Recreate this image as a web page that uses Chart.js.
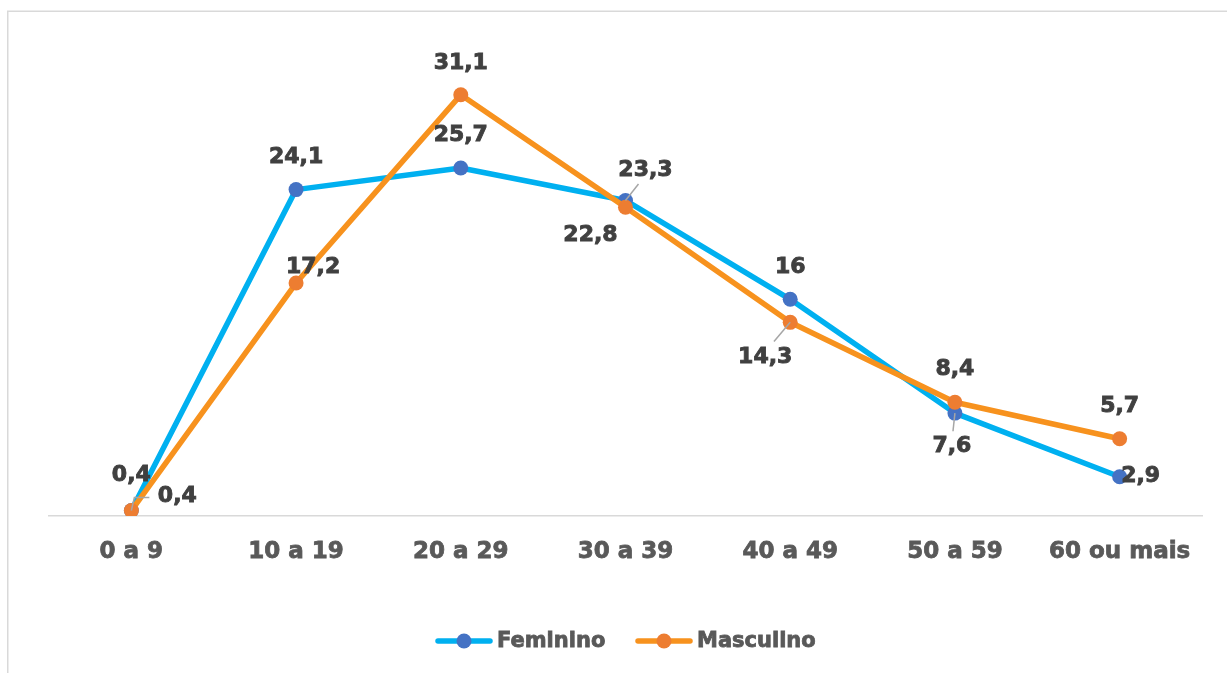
<!DOCTYPE html>
<html>
<head>
<meta charset="utf-8">
<script src="https://cdn.jsdelivr.net/npm/chart.js@4.4.1/dist/chart.umd.min.js"></script>
<style>
html,body{margin:0;padding:0;background:#fff;overflow:hidden;}
#wrap{width:1227px;height:673px;position:relative;}
</style>
</head>
<body>
<div id="wrap"><canvas id="c" width="1227" height="673"></canvas></div>
<script>
const categories = ['0 a 9','10 a 19','20 a 29','30 a 39','40 a 49','50 a 59','60 ou mais'];
const feminino = [0.4, 24.1, 25.7, 23.3, 16, 7.6, 2.9];
const masculino = [0.4, 17.2, 31.1, 22.8, 14.3, 8.4, 5.7];
const seriesNames = ['Feminino','Masculino'];

// label placement (pixel offsets from the point) and leader-line flags
const femLabelOffsets = [[0,-35],[0,-32],[0,-33],[20,-30],[0,-32],[-3,33],[21,0]];
const mascLabelOffsets = [[46,-14],[17,-16],[0,-32],[-35,28],[-25,35],[0,-33],[0,-33]];
const femLeader = [false,false,false,true,false,true,false];
const mascLeader = [true,false,false,false,true,false,false];

const FONT = '"DejaVu Sans", Verdana, sans-serif';

const labelPlugin = {
  id: 'labels',
  beforeDraw(chart){
    const ctx = chart.ctx;
    ctx.save();
    ctx.fillStyle = '#fff';
    ctx.fillRect(0,0,chart.width,chart.height);
    ctx.strokeStyle = '#D9D9D9';
    ctx.lineWidth = 1.5;
    ctx.beginPath();
    ctx.moveTo(7.75, chart.height);
    ctx.lineTo(7.75, 11.25);
    ctx.lineTo(chart.width, 11.25);
    ctx.stroke();
    ctx.restore();
  },
  afterDatasetsDraw(chart){
    const ctx = chart.ctx;
    const cfg = [
      {offs: femLabelOffsets, lead: femLeader, data: feminino},
      {offs: mascLabelOffsets, lead: mascLeader, data: masculino}
    ];
    ctx.save();
    ctx.font = 'bold 22px ' + FONT;
    ctx.textAlign = 'center';
    ctx.textBaseline = 'middle';
    cfg.forEach((c, di) => {
      const meta = chart.getDatasetMeta(di);
      meta.data.forEach((pt, i) => {
        if (!c.lead[i]) return;
        const [dx, dy] = c.offs[i];
        const lx = pt.x + dx, ly = pt.y + dy;
        ctx.strokeStyle = '#A6A6A6';
        ctx.lineWidth = 1.5;
        ctx.beginPath();
        ctx.moveTo(pt.x, pt.y);
        if (di === 1 && i === 0) {
          ctx.lineTo(pt.x + 3, ly + 1);
          ctx.lineTo(lx - 28, ly + 1);
        } else {
          const tx = lx - dx*0.35, ty = ly - dy*0.45;
          ctx.lineTo(tx, ty);
        }
        ctx.stroke();
      });
    });
    cfg.forEach((c, di) => {
      const meta = chart.getDatasetMeta(di);
      meta.data.forEach((pt, i) => {
        const [dx, dy] = c.offs[i];
        const txt = String(c.data[i]).replace('.', ',');
        ctx.fillStyle = '#404040';
        ctx.strokeStyle = '#404040';
        ctx.lineWidth = 0.9;
        ctx.fillText(txt, pt.x + dx, pt.y + dy);
        ctx.strokeText(txt, pt.x + dx, pt.y + dy);
      });
    });
    ctx.restore();
  },
  afterDraw(chart){
    const ctx = chart.ctx;
    ctx.save();
    const items = [
      {name: seriesNames[0], line: '#00B0F0', mark: '#4472C4', x: 436},
      {name: seriesNames[1], line: '#F7921E', mark: '#ED7D31', x: 636}
    ];
    const y = 641;
    ctx.font = 'bold 21px ' + FONT;
    ctx.textBaseline = 'middle';
    ctx.textAlign = 'left';
    items.forEach(it => {
      ctx.strokeStyle = it.line;
      ctx.lineWidth = 5.5;
      ctx.lineCap = 'round';
      ctx.beginPath();
      ctx.moveTo(it.x + 2, y);
      ctx.lineTo(it.x + 54, y);
      ctx.stroke();
      ctx.fillStyle = it.mark;
      ctx.beginPath();
      ctx.arc(it.x + 28, y, 7.5, 0, Math.PI*2);
      ctx.fill();
      ctx.fillStyle = '#595959';
      ctx.strokeStyle = '#595959';
      ctx.lineWidth = 0.8;
      ctx.fillText(it.name, it.x + 61, y + 1);
      ctx.strokeText(it.name, it.x + 61, y + 1);
    });
    ctx.restore();
  }
};

new Chart(document.getElementById('c'), {
  type: 'line',
  data: {
    labels: categories,
    datasets: [
      {
        label: seriesNames[0],
        data: feminino,
        order: 2,
        borderColor: '#00B0F0',
        backgroundColor: '#4472C4',
        pointBackgroundColor: '#4472C4',
        pointBorderColor: '#4472C4',
        borderWidth: 5.5,
        pointRadius: 7.5,
        pointBorderWidth: 0,
        tension: 0,
        borderJoinStyle: 'round'
      },
      {
        label: seriesNames[1],
        data: masculino,
        order: 1,
        borderColor: '#F7921E',
        backgroundColor: '#ED7D31',
        pointBackgroundColor: '#ED7D31',
        pointBorderColor: '#ED7D31',
        borderWidth: 5.5,
        pointRadius: 7.5,
        pointBorderWidth: 0,
        tension: 0,
        borderJoinStyle: 'round'
      }
    ]
  },
  options: {
    responsive: false,
    animation: false,
    layout: { padding: { left: 49, right: 25, top: 42, bottom: 97 } },
    plugins: {
      legend: { display: false },
      tooltip: { enabled: false }
    },
    scales: {
      x: {
        offset: true,
        grid: { display: false, drawTicks: false },
        border: { display: true, color: '#D9D9D9', width: 1.5 },
        ticks: {
          color: '#595959',
          textStrokeColor: '#595959',
          textStrokeWidth: 0.8,
          font: { family: FONT, size: 23, weight: 'bold' },
          padding: 22,
          maxRotation: 0,
          autoSkip: false
        },
        afterFit(scale){ scale.height = 60; }
      },
      y: {
        display: false,
        min: 0,
        max: 35
      }
    }
  },
  plugins: [labelPlugin]
});
</script>
</body>
</html>
